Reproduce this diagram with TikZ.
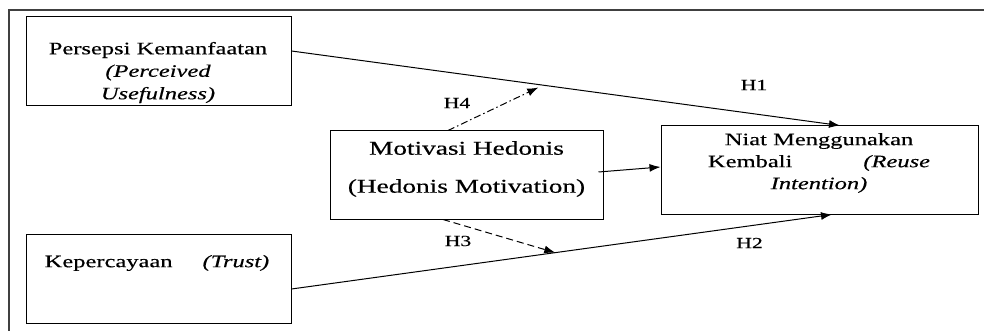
\documentclass[tikz,border=0pt]{standalone}
\usepackage{fontspec}
\setmainfont[FakeStretch=1.4,FakeBold=0.4]{Liberation Serif}
\usetikzlibrary{arrows.meta,calc}
\begin{document}
\begin{tikzpicture}[x=1pt,y=-1pt,>={Latex[length=11pt,width=8pt]},line width=1pt]
			\tikzset{box/.style={draw,rectangle,inner sep=0pt},
				txt/.style={align=center,inner sep=0pt,font=\fontsize{17.5}{22.5}\selectfont},
				hlab/.style={inner sep=0pt,font=\fontsize{15.5}{18}\selectfont}}
			\useasboundingbox (0,0) rectangle (984,331);
			\draw[line width=1.4pt,black!75] (984,10)--(9,10)--(9,331);
			% kotak variabel
			\node[box,minimum width=265pt,minimum height=89pt] (pu) at (158.5,61.5) {};
			\node[box,minimum width=273pt,minimum height=88pt] (hm) at (466.5,175) {};
			\node[box,minimum width=317pt,minimum height=88pt] (ri) at (819.5,170) {};
			\node[box,minimum width=265pt,minimum height=89pt] (tr) at (158.5,278.5) {};
			\node[txt] (pu-t) at (158,72.5) {Persepsi Kemanfaatan\\\textit{(Perceived}\\\textit{Usefulness)}};
			\node[txt,font=\fontsize{19.5}{23.5}\selectfont] (hm-t) at (466.5,169) {Motivasi Hedonis\\[14.5pt](Hedonis Motivation)};
			\node[txt,font=\fontsize{17.5}{22}\selectfont] (ri-t) at (819,163) {Niat Menggunakan\\\makebox[222pt]{Kembali\hfill\textit{(Reuse}}\\\textit{Intention)}};
			\node[txt] (tr-t) at (157,263) {Kepercayaan\hspace{30pt}\textit{(Trust)}};
			% panah
			\draw[->] ($(pu.east)+(0,-10.5)$)--($(ri.north)+(20.5,0)$) coordinate[pos=0.45] (h1m);
			\draw[->] ($(tr.east)+(0,10.5)$)--($(ri.south)+(12.5,0)$) coordinate[pos=0.488] (h2m);
			\draw[->] ($(hm.east)+(-5,-3)$)--($(ri.west)+(0,-3)$);
			\draw[->,dash pattern=on 7pt off 4pt] ($(hm.south)+(-23.5,0)$)--(h2m);
			\draw[->,dash pattern=on 7pt off 3pt on 1.5pt off 3pt] ($(hm.north)+(-18.5,0)$)--($(h1m)+(0,3)$);
			\foreach \p/\q in {H1/{754,85},H2/{749.5,243},H3/{458,241},H4/{457,103}}\node[hlab] (\p) at (\q) {\p};
\end{tikzpicture}
\end{document}
